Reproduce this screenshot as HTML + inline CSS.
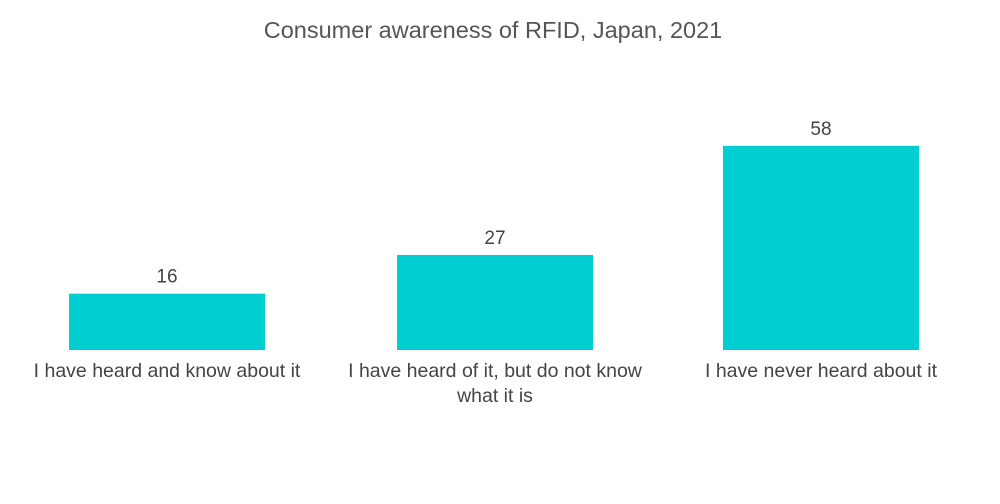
<!DOCTYPE html>
<html><head><meta charset="utf-8">
<style>
html,body{margin:0;padding:0;background:#fff;width:1000px;height:504px;overflow:hidden;font-family:"Liberation Sans",sans-serif;}
</style></head>
<body>
<svg id="chart" width="1000" height="504" xmlns="http://www.w3.org/2000/svg">
<text x="493" y="38" text-anchor="middle" font-size="23.5" fill="#555" font-family="Liberation Sans, sans-serif">Consumer awareness of RFID, Japan, 2021</text>
</svg>
<script>
const categories = [["I have heard and know about it"],["I have heard of it, but do not know","what it is"],["I have never heard about it"]];
const values = [16, 27, 58];
const svg = document.getElementById('chart');
const NS = 'http://www.w3.org/2000/svg';
const baseY = 350, scale = 3.52, barW = 196;
const centers = [167, 495, 821];
function yPos(v){ return baseY - v*scale; }
values.forEach((v,i)=>{
  const r = document.createElementNS(NS,'rect');
  r.setAttribute('x', centers[i]-barW/2);
  r.setAttribute('y', yPos(v));
  r.setAttribute('width', barW);
  r.setAttribute('height', baseY - yPos(v));
  r.setAttribute('fill', '#00ced1');
  
  
  svg.appendChild(r);
  const t = document.createElementNS(NS,'text');
  t.setAttribute('x', centers[i]);
  t.setAttribute('y', yPos(v) - 11);
  t.setAttribute('text-anchor', 'middle');
  t.setAttribute('font-size', '19');
  t.setAttribute('fill', '#444');
  t.textContent = v;
  
  
  svg.appendChild(t);
  categories[i].forEach((line,j)=>{
    const c = document.createElementNS(NS,'text');
    c.setAttribute('x', centers[i]);
    c.setAttribute('y', 377 + j*25);
    c.setAttribute('text-anchor', 'middle');
    c.setAttribute('font-size', '19.5');
    c.setAttribute('fill', '#444');
    c.textContent = line;
    
    
    svg.appendChild(c);
  });
});
</script>
</body></html>
